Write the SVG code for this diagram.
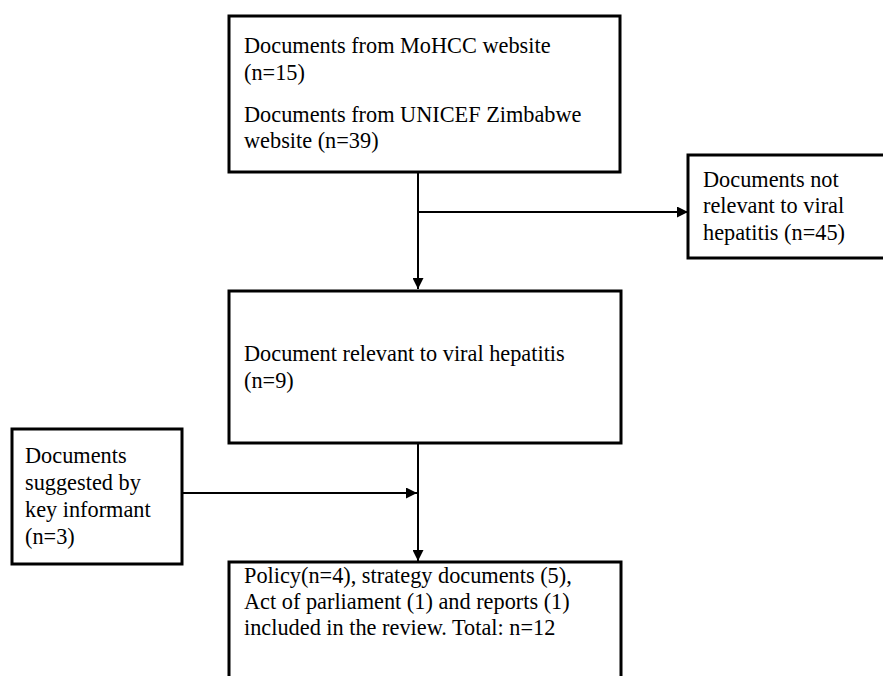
<svg xmlns="http://www.w3.org/2000/svg" width="883" height="676" viewBox="0 0 883 676">
<defs>
<style>
.box{fill:#fff;stroke:#000;stroke-width:3}
.t{font-family:"Liberation Serif","Times New Roman",serif;font-size:22.3px;fill:#000}
.c{stroke:#000;stroke-width:2;fill:none}
</style>
<marker id="ah" viewBox="0 0 10 10" refX="10" refY="5" markerWidth="11" markerHeight="11" markerUnits="userSpaceOnUse" orient="auto">
<path d="M0,0 L10,5 L0,10 Z" fill="#000"/>
</marker>
</defs>
<rect width="883" height="676" fill="#fff"/>
<g id="connectors">
<line class="c" x1="418" y1="172" x2="418" y2="289" marker-end="url(#ah)"/>
<line class="c" x1="418" y1="212" x2="688" y2="212" marker-end="url(#ah)"/>
<line class="c" x1="418" y1="443" x2="418" y2="561" marker-end="url(#ah)"/>
<line class="c" x1="182" y1="493" x2="417" y2="493" marker-end="url(#ah)"/>
</g>
<g id="sources">
<rect class="box" x="229" y="16" width="391" height="156"/>
<text class="t" x="244" y="53">Documents from MoHCC website</text>
<text class="t" x="244" y="80">(n=15)</text>
<text class="t" x="244" y="122">Documents from UNICEF Zimbabwe</text>
<text class="t" x="244" y="148">website (n=39)</text>
</g>
<g id="excluded">
<rect class="box" x="688" y="155" width="210" height="103"/>
<text class="t" x="703" y="187">Documents not</text>
<text class="t" x="703" y="213">relevant to viral</text>
<text class="t" x="703" y="240">hepatitis (n=45)</text>
</g>
<g id="relevant">
<rect class="box" x="229" y="291" width="392" height="152"/>
<text class="t" x="244" y="361">Document relevant to viral hepatitis</text>
<text class="t" x="244" y="388">(n=9)</text>
</g>
<g id="suggested">
<rect class="box" x="12" y="429" width="170" height="135"/>
<text class="t" x="25" y="463">Documents</text>
<text class="t" x="25" y="490">suggested by</text>
<text class="t" x="25" y="517">key informant</text>
<text class="t" x="25" y="544">(n=3)</text>
</g>
<g id="included">
<rect class="box" x="229" y="562" width="392" height="130"/>
<text class="t" x="244" y="583">Policy(n=4), strategy documents (5),</text>
<text class="t" x="244" y="609">Act of parliament (1) and reports (1)</text>
<text class="t" x="244" y="635">included in the review. Total: n=12</text>
</g>
</svg>
